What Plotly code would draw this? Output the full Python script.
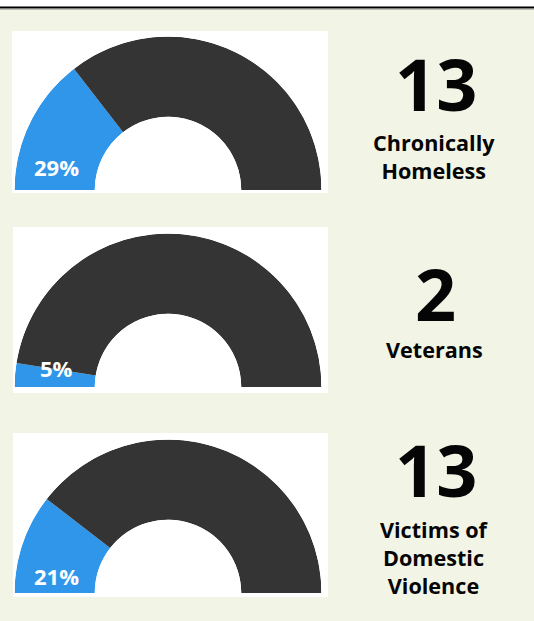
import plotly.graph_objects as go

# ---- data ----
categories = ["Chronically<br>Homeless", "Veterans", "Victims of<br>Domestic<br>Violence"]
counts = [13, 2, 13]
percents = [29, 5, 21]

W, H = 534, 621
BG = "#f2f4e6"
BLUE = "#2f96ea"
DARK = "#343434"
INK = "#050505"

def px(y):
    return 1 - y / H

def pxx(x):
    return x / W

# layout geometry (pixels)
boxes = [(12, 31, 328, 193), (13, 227, 328, 393), (13, 433, 328, 597)]
bases = [190, 387, 593]
cx = 168
R = 153.5
num_y = [82.5, 292.5, 468.5]
lab_y = [156.5, 349.5, 557]
pct_y = [167.5, 367.5, 575.5]

fig = go.Figure()
layout_polars = {}
for i, p in enumerate(percents):
    name = "polar" if i == 0 else f"polar{i+1}"
    deg_blue = p * 1.8
    deg_dark = (100 - p) * 1.8
    fig.add_trace(go.Barpolar(
        r=[1, 1], theta=[deg_blue / 2, deg_blue + deg_dark / 2],
        width=[deg_blue, deg_dark], base=0,
        marker=dict(color=[BLUE, DARK], line=dict(width=0)),
        hoverinfo="skip", showlegend=False, subplot=name,
    ))
    base = bases[i]
    layout_polars[name] = dict(
        domain=dict(x=[pxx(cx - R), pxx(cx + R)], y=[px(base), px(base - R)]),
        sector=[0, 180], hole=0.477, bgcolor="rgba(0,0,0,0)",
        radialaxis=dict(visible=False, range=[0, 1], showgrid=False, showline=False,
                        showticklabels=False, ticks=""),
        angularaxis=dict(visible=False, rotation=180, direction="clockwise",
                         showgrid=False, showline=False, showticklabels=False, ticks=""),
    )

shapes = [
    dict(type="rect", xref="paper", yref="paper", x0=0, x1=1, y0=px(6.5), y1=1,
         fillcolor="white", line=dict(width=0), layer="below"),
    dict(type="rect", xref="paper", yref="paper", x0=0, x1=1, y0=px(8.5), y1=px(6.5),
         fillcolor="black", line=dict(width=0), layer="below"),
    dict(type="rect", xref="paper", yref="paper", x0=0, x1=1, y0=px(9.5), y1=px(8.5),
         fillcolor="#888888", line=dict(width=0), layer="below"),
]
for (x0, y0, x1, y1) in boxes:
    shapes.append(dict(type="rect", xref="paper", yref="paper",
                       x0=pxx(x0), x1=pxx(x1), y0=px(y1), y1=px(y0),
                       fillcolor="white", line=dict(width=0), layer="below"))

annotations = []
for i in range(3):
    annotations.append(dict(
        x=pxx(435.5), y=px(num_y[i]), xref="paper", yref="paper",
        text=str(counts[i]), showarrow=False, xanchor="center", yanchor="middle",
        height=74,
        font=dict(family="Open Sans", size=72, color=INK, weight=700)))
    annotations.append(dict(
        x=pxx(434), y=px(lab_y[i]), xref="paper", yref="paper",
        text=categories[i], showarrow=False, xanchor="center", yanchor="middle",
        font=dict(family="Open Sans", size=21.6, color=INK, weight=700)))
    annotations.append(dict(
        x=pxx(56), y=px(pct_y[i]), xref="paper", yref="paper",
        text=f"{percents[i]}%", showarrow=False, xanchor="center", yanchor="middle",
        font=dict(family="Open Sans", size=22, color="white", weight=700)))

fig.update_layout(
    width=W, height=H,
    margin=dict(l=0, r=0, t=0, b=0),
    paper_bgcolor=BG, plot_bgcolor=BG,
    shapes=shapes, annotations=annotations,
    showlegend=False,
    **layout_polars,
)

fig.write_html("out.html", config={"displayModeBar": False},
               post_script="document.body.style.margin='0';document.body.style.overflow='hidden';")
